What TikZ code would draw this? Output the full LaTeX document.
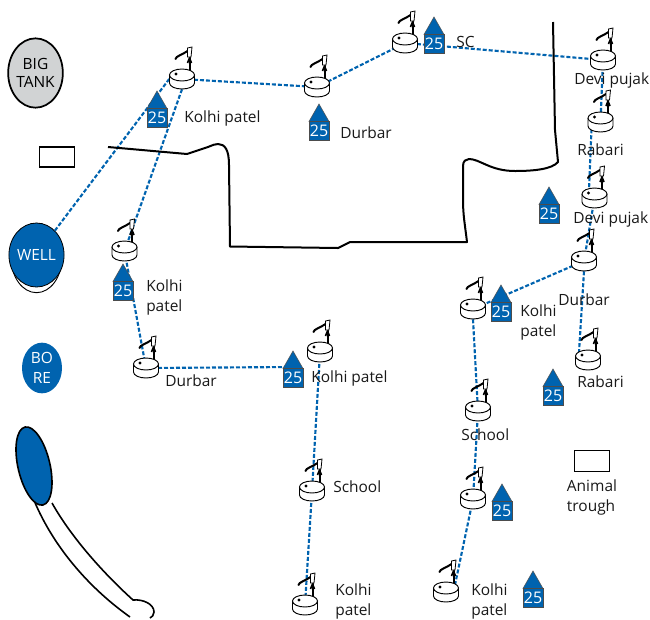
\documentclass[tikz,border=0pt]{standalone}
\usepackage{fontspec}
\setmainfont{Open Sans}
\usetikzlibrary{shapes.geometric}
\definecolor{wblue}{RGB}{0,99,175}
\definecolor{tankgrey}{RGB}{209,211,212}
\tikzset{
  tapnode/.style={ellipse,minimum width=18.75pt,minimum height=15pt,inner sep=0pt},
  pipe/.style={draw=wblue,line width=1.6pt,dash pattern=on 3pt off 1.5pt},
  lbl/.style={font=\fontsize{11.6}{15}\selectfont,text=black!90,align=center,inner sep=0pt},
  outline/.style={draw=black,line width=1.3pt},
  housetxt/.style={text=white,font=\fontsize{12}{13}\selectfont,inner sep=0pt,minimum width=15pt,minimum height=14pt,fill=wblue,draw=black!70,line width=.4pt},
  tap/.pic={
    \draw[black,line width=.7pt,fill=white] (-12.5,-4) -- (-12.5,4) arc[start angle=180,end angle=0,x radius=12.5,y radius=6] -- (12.5,-4);
    \draw[black,line width=.7pt,fill=white] (0,-4) ellipse[x radius=12.5,y radius=6];
    \fill (-6,-5) circle[radius=1.6];
    \draw[black,line width=1.5pt] (7.5,-9) -- (7.5,-23);
    \draw[black,line width=1.2pt] (5.5,-16) -- (7.5,-21) -- (9.5,-16);
    \draw[black,line width=1.5pt,line cap=round] (-6.5,-20) .. controls (-6,-23) and (0,-24) .. (5.5,-28);
    \draw[black,line width=.6pt,fill=white] (5.5,-22) -- (5.5,-31) -- (10,-32) -- (9,-22) -- cycle;
  },
}
\newcommand{\house}[3]{%
  \node[housetxt] (#1) at (#2,#3+27) {25};
  \fill[wblue,draw=black!70,line width=.4pt] (#2-10,#3+17.5) -- (#2,#3) -- (#2+10,#3+17.5) -- cycle;
}
\begin{document}
\begin{tikzpicture}[x=0.75pt,y=-0.75pt]
\useasboundingbox (0,0) rectangle (650,619);

% tap positions
\node[tapnode] (t1) at (182,79) {};
\node[tapnode] (t2) at (317,87) {};
\node[tapnode] (t3) at (405,43) {};
\node[tapnode] (t4) at (603,60) {};
\node[tapnode] (t5) at (600.5,122) {};
\node[tapnode] (t6) at (594.5,198) {};
\node[tapnode] (t7) at (584,261) {};
\node[tapnode] (t8) at (473,309) {};
\node[tapnode] (t9) at (588,360) {};
\node[tapnode] (t10) at (124.5,251) {};
\node[tapnode] (t11) at (146,368) {};
\node[tapnode] (t12) at (320,352) {};
\node[tapnode] (t13) at (478,411) {};
\node[tapnode] (t14) at (312,491) {};
\node[tapnode] (t15) at (473,499) {};
\node[tapnode] (t16) at (305,605) {};
\node[tapnode] (t17) at (446,592) {};
\coordinate (t6in) at (589,190);
\coordinate (h7in) at (293,367);

% sources
\node[ellipse,draw=black,line width=.7pt,minimum width=38pt,minimum height=52pt,inner sep=0pt] (wellshadow) at (36.5,258) {};
\node[ellipse,draw=black,line width=.6pt,fill=wblue,minimum width=38pt,minimum height=48pt,inner sep=0pt,text=white,font=\fontsize{11.6}{15}\selectfont] (well) at (36.5,255) {WELL};
\node[ellipse,outline,fill=tankgrey,minimum width=41pt,minimum height=52pt,inner sep=0pt,align=center,font=\fontsize{11.6}{14}\selectfont] (tank) at (35.5,73) {BIG\\TANK};
\node[ellipse,fill=wblue,minimum width=30pt,minimum height=38pt,inner sep=0pt,align=center,text=white,font=\fontsize{11.6}{15}\selectfont] (bore) at (42,368) {BO\\RE};
\node[draw=black,line width=1.2pt,minimum width=26pt,minimum height=15pt,inner sep=0pt] (box1) at (57,157) {};
\node[draw=black,line width=.6pt,minimum width=26pt,minimum height=16pt,inner sep=0pt] (trough) at (592,461) {};

% pipes
\draw[pipe] (well) -- (t1.west);
\draw[pipe] (t1.south) -- (t10.center);
\draw[pipe] (t1.center) -- (t2.center);
\draw[pipe] (t2.center) -- (t3.center);
\draw[pipe] (t3.center) -- (t4.center);
\draw[pipe] (t4.center) -- (t5.center);
\draw[pipe] (t5.south west) -- (t6in);
\draw[pipe] (t6.center) -- (t7.center);
\draw[pipe] (t7.center) -- (t8.center);
\draw[pipe] (t7.south) -- (t9.north west);
\draw[pipe] (t8.south) -- (t13.center);
\draw[pipe] (t13.center) -- (t15.center);
\draw[pipe] (t15.center) -- (t17.north east);
\draw[pipe] (t10.center) -- (t11.center);
\draw[pipe] (t11.center) -- (h7in);
\draw[pipe] (t12.center) -- (t14.center);
\draw[pipe] (t14.center) -- (t16.center);

% road
\draw[black,line width=1.5pt,line join=round] (108,147) -- (187,154) -- (208,147)
  .. controls (213,145) and (215,144) .. (218,144)
  .. controls (225,144) and (229,150) .. (229,165)
  -- (230,246.5) -- (338,248) -- (350,242) -- (467,242)
  .. controls (465,225) and (463,215) .. (463,200) -- (463,166)
  .. controls (463,161) and (466,159) .. (469,159)
  .. controls (480,159) and (490,171) .. (515,171)
  .. controls (535,171) and (552,169) .. (558,162)
  -- (555,130) -- (553,22);

% lake
\draw[black,line width=1.2pt] (30,490) .. controls (48,540) and (85,585) .. (130,617);
\draw[black,line width=1.2pt] (52,503) .. controls (70,535) and (100,570) .. (133,600)
  .. controls (143,599) and (154,604) .. (154,612) .. controls (154,615) and (152,617) .. (150,618);
\node[ellipse,draw=black,line width=1.2pt,fill=wblue,minimum width=24pt,minimum height=60pt,inner sep=0pt,rotate=13] (lake) at (34,466) {};

% taps
\foreach \n in {t1,t2,t3,t4,t5,t6,t7,t8,t9,t10,t11,t12,t13,t14,t15,t16,t17}
  \pic at (\n) {tap};

% houses
\house{h1}{157}{91}
\house{h2}{319}{104}
\house{h3}{434}{17}
\house{h4}{549}{187}
\house{h5}{123}{264}
\house{h6}{501}{285}
\house{h7}{293}{351}
\house{h8}{553}{369}
\house{h9}{502}{484}
\house{h10}{533}{571}

% labels
\node[lbl,anchor=west] (l1) at (184,118) {Kolhi patel};
\node[lbl,anchor=west] (l2) at (340,133) {Durbar};
\node[lbl,anchor=west] (l3) at (456,42) {SC};
\node[lbl,anchor=west] (l4) at (574,80) {Devi pujak};
\node[lbl,anchor=west] (l5) at (577,150) {Rabari};
\node[lbl,anchor=west] (l6) at (573,219) {Devi pujak};
\node[lbl,anchor=west] (l7) at (558,300) {Durbar};
\node[lbl,anchor=west,align=left] (l8) at (520,322) {Kolhi\\patel};
\node[lbl,anchor=west] (l9) at (577,382) {Rabari};
\node[lbl,anchor=west,align=left] (l10) at (146,297) {Kolhi\\patel};
\node[lbl,anchor=west] (l11) at (165,381) {Durbar};
\node[lbl,anchor=west] (l12) at (311,378) {Kolhi patel};
\node[lbl,anchor=west] (l13) at (461,435) {School};
\node[lbl,anchor=west] (l14) at (333,487) {School};
\node[lbl,anchor=west,align=left] (l15) at (335,601) {Kolhi\\patel};
\node[lbl,anchor=west,align=left] (l16) at (471,601) {Kolhi\\patel};
\node[lbl,align=left] (l17) at (592,497) {Animal\\trough};
\end{tikzpicture}
\end{document}
